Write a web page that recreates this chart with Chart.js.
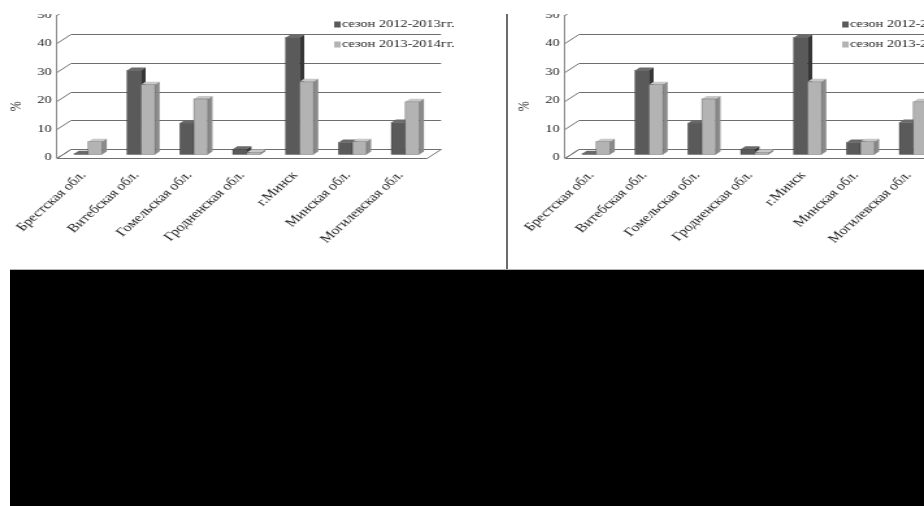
<!DOCTYPE html>
<html>
<head>
<meta charset="utf-8">
<script src="https://cdn.jsdelivr.net/npm/chart.js@4.4.1/dist/chart.umd.min.js"></script>
<style>
  html, body { margin: 0; padding: 0; width: 924px; height: 506px; overflow: hidden; background: #fff; }
  .panel { position: absolute; top: 14px; width: 388px; height: 254px; overflow: hidden;
           transform: scaleX(1.3); transform-origin: 0 0; }
  .panel canvas { position: absolute; left: 0; top: -11.5px; }
  #p1 { left: 0; }
  #p2 { left: 508px; }
  #sep { position: absolute; left: 506px; top: 14px; width: 2px; height: 255px; background: #6b6b6b; }
  #under { position: absolute; left: 10px; top: 269px; right: 0; bottom: 0; background: #000; border-top: 1px solid #b4b4b4; }
</style>
</head>
<body>
<div class="panel" id="p1"><canvas id="c1" width="388" height="266"></canvas></div>
<div class="panel" id="p2"><canvas id="c2" width="388" height="266"></canvas></div>
<div id="sep"></div>
<div id="under"></div>
<script>
// Regions of Belarus and share of cases (%) per season
const categories = ['Брестская обл.', 'Витебская обл.', 'Гомельская обл.', 'Гродненская обл.', 'г.Минск', 'Минская обл.', 'Могилевская обл.'];
const season2012 = [0.3, 29.5, 11, 1.8, 41, 4.2, 11.2];
const season2013 = [4.5, 24.5, 19.5, 0.7, 25.5, 4.5, 18.5];
const seriesNames = ['сезон 2012-2013гг.', 'сезон 2013-2014гг.'];
const yTickValues = [0, 10, 20, 30, 40, 50];
const axisTitle = '%';

const SERIF = '"Liberation Serif", "Times New Roman", serif';
const GRID = '#6e6e6e';
// depth of the 3D box (floor / back wall) and of each bar
const DX = 10.8, DY = 9;
const BDX = DX / 3, BDY = DY / 3;
const faces = [
  { front: '#5a5a5a', top: '#6b6b6b', side: '#363636' },
  { front: '#b3b3b3', top: '#c8c8c8', side: '#8a8a8a' }
];

function px(v) { return Math.round(v) + 0.5; }

const box3d = {
  id: 'box3d',
  beforeDatasetsDraw(chart) {
    const { ctx, chartArea: a, scales: { y } } = chart;
    ctx.save();
    ctx.lineWidth = 1;
    ctx.strokeStyle = GRID;
    // floor
    const fb = px(a.bottom);
    ctx.beginPath();
    ctx.moveTo(a.left, fb);
    ctx.lineTo(a.right, fb);
    ctx.lineTo(a.right + DX, fb - DY);
    ctx.lineTo(a.left + DX, fb - DY);
    ctx.closePath();
    ctx.fillStyle = '#fff';
    ctx.fill();
    ctx.stroke();
    // back wall grid lines with their slanted side-wall segments
    y.ticks.forEach(t => {
      const py = px(y.getPixelForValue(t.value));
      ctx.beginPath();
      ctx.moveTo(a.left, py);
      ctx.lineTo(a.left + DX, py - DY);
      ctx.lineTo(a.right + DX, py - DY);
      ctx.stroke();
    });
    // bars, category by category so that faces overlap correctly
    const metas = chart.data.datasets.map((_, i) => chart.getDatasetMeta(i));
    for (let j = 0; j < categories.length; j++) {
      metas.forEach((meta, i) => {
        const el = meta.data[j];
        const f = faces[i];
        const x0 = el.x - el.width / 2 + BDX, x1 = el.x + el.width / 2 + BDX;
        const top = el.y - BDY, base = el.base - BDY;
        ctx.fillStyle = f.front;
        ctx.fillRect(x0, top, x1 - x0, base - top);
        ctx.fillStyle = f.top;
        ctx.beginPath();
        ctx.moveTo(x0, top); ctx.lineTo(x1, top);
        ctx.lineTo(x1 + BDX, top - BDY); ctx.lineTo(x0 + BDX, top - BDY);
        ctx.closePath(); ctx.fill();
        ctx.fillStyle = f.side;
        ctx.beginPath();
        ctx.moveTo(x1, top); ctx.lineTo(x1 + BDX, top - BDY);
        ctx.lineTo(x1 + BDX, base - BDY); ctx.lineTo(x1, base);
        ctx.closePath(); ctx.fill();
        ctx.strokeStyle = 'rgba(40,40,40,0.45)';
        ctx.lineWidth = 0.6;
        ctx.strokeRect(x0, top, x1 - x0, base - top);
      });
    }
    ctx.restore();
    return false;
  },
  afterDraw(chart) {
    const { ctx, chartArea: a } = chart;
    ctx.save();
    // axis title
    ctx.translate(13, a.top + (a.bottom - a.top) * 0.64);
    ctx.rotate(-Math.PI / 2);
    ctx.font = '12px ' + SERIF;
    ctx.fillStyle = '#222';
    ctx.textAlign = 'center';
    ctx.textBaseline = 'middle';
    ctx.fillText(axisTitle, 0, 0);
    ctx.restore();
    // legend
    ctx.save();
    ctx.font = '11px ' + SERIF;
    ctx.textBaseline = 'middle';
    chart.data.datasets.forEach((ds, i) => {
      const ly = a.top + 9.5 + i * 20;
      ctx.fillStyle = ds.backgroundColor;
      ctx.fillRect(a.right - 71.5, ly - 3, 5, 6);
      ctx.fillStyle = '#222';
      ctx.fillText(ds.label, a.right - 65.5, ly);
    });
    ctx.restore();
  }
};

function makeChart(id) {
  return new Chart(document.getElementById(id), {
    type: 'bar',
    data: {
      labels: categories,
      datasets: [
        { label: seriesNames[0], data: season2012, backgroundColor: faces[0].front, categoryPercentage: 0.53, barPercentage: 1 },
        { label: seriesNames[1], data: season2013, backgroundColor: faces[1].front, categoryPercentage: 0.53, barPercentage: 1 }
      ]
    },
    options: {
      responsive: false,
      animation: false,
      layout: { padding: { left: 0, right: 59.5, top: 12, bottom: 0 } },
      plugins: { legend: { display: false }, tooltip: { enabled: false } },
      scales: {
        x: {
          grid: { display: false, drawTicks: false },
          border: { display: false },
          ticks: { font: { family: SERIF, size: 12 }, color: '#222', minRotation: 49, maxRotation: 49, autoSkip: false, padding: 11 },
          afterFit(s) { s.height = 111.5; }
        },
        y: {
          min: yTickValues[0],
          max: yTickValues[yTickValues.length - 1],
          grid: { display: false, drawTicks: false },
          border: { display: true, color: '#8a8a8a', width: 1 },
          ticks: { stepSize: yTickValues[1] - yTickValues[0], font: { family: SERIF, size: 11 }, color: '#222', padding: 4 },
          afterFit(s) { s.width = 43.8; }
        }
      }
    },
    plugins: [box3d]
  });
}

makeChart('c1');
makeChart('c2');
</script>
</body>
</html>
